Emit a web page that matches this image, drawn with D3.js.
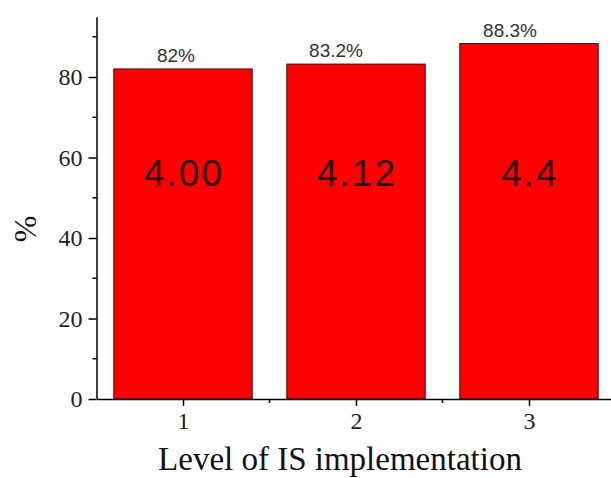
<!DOCTYPE html>
<html><head><meta charset="utf-8">
<script src="https://cdn.jsdelivr.net/npm/d3@7/dist/d3.min.js"></script>
<style>body{margin:0;background:#fff}svg{display:block}</style>
</head><body>
<svg id="c" width="611" height="478"></svg>
<script>
const categories = [1, 2, 3];
const percentValues = [82, 83.2, 88.3];
const percentLabels = ["82%", "83.2%", "88.3%"];
const innerLabels = ["4.00", "4.12", "4.4"];
const yTicks = [0, 20, 40, 60, 80];
const yMinorTicks = [10, 30, 50, 70, 90];
const xMinorTicks = [1.5, 2.5];

const serif = "'Liberation Serif', 'Times New Roman', serif";
const sans = "'Liberation Sans', Arial, sans-serif";

const svg = d3.select("#c");
const x0 = 96.5, yBase = 399;
const x = d3.scaleLinear().domain([0.5, 3.5]).range([x0, x0 + 519]);
const y = d3.scaleLinear().domain([0, 95]).range([yBase, yBase - 95 * 4.025]);
const barW = x(1.4) - x(0.6);

// bars
svg.selectAll("rect.bar").data(categories).join("rect")
  .attr("class", "bar")
  .attr("x", (d) => x(d) - barW / 2)
  .attr("y", (d, i) => y(percentValues[i]))
  .attr("width", barW)
  .attr("height", (d, i) => y(0) - y(percentValues[i]))
  .attr("fill", "#ff0000")
  .attr("stroke", "#3a1010")
  .attr("stroke-width", 1);

// labels above bars
const labelShift = [-7, -20, -19];
svg.selectAll("text.pl").data(categories).join("text")
  .attr("class", "pl")
  .attr("x", (d, i) => x(d) + labelShift[i])
  .attr("y", (d, i) => y(percentValues[i]) - 7)
  .attr("text-anchor", "middle")
  .style("font-family", sans)
  .style("font-size", "19px")
  .attr("fill", "#333")
  .text((d, i) => percentLabels[i]);

// inner labels
svg.selectAll("text.il").data(categories).join("text")
  .attr("class", "il")
  .attr("x", (d) => x(d) + 1)
  .attr("y", 186)
  .attr("text-anchor", "middle")
  .style("font-family", sans)
  .style("font-size", "37px")
  .style("letter-spacing", "2px")
  .attr("fill", "#2a0606")
  .text((d, i) => innerLabels[i]);

// y axis
const yAxis = d3.axisLeft(y).tickValues(yTicks).tickFormat(d3.format("d")).tickSize(8).tickSizeOuter(0).tickPadding(6);
const gy = svg.append("g").attr("transform", `translate(${x0},0)`).call(yAxis);
gy.attr("font-family", null).attr("font-size", null);
gy.selectAll(".tick text").style("font-family", serif).style("font-size", "24px").attr("fill", "#222");
gy.select(".domain").attr("stroke", "#000").attr("stroke-width", 1.5);
gy.selectAll(".tick line").attr("stroke", "#000").attr("stroke-width", 1.5);
gy.selectAll("line.minor").data(yMinorTicks).join("line").attr("class", "minor")
  .attr("x1", 0).attr("x2", -4).attr("y1", (d) => y(d)).attr("y2", (d) => y(d))
  .attr("stroke", "#000").attr("stroke-width", 1.5);

// x axis
const xAxis = d3.axisBottom(x).tickValues(categories).tickFormat(d3.format("d")).tickSize(7).tickSizeOuter(0).tickPadding(6);
const gx = svg.append("g").attr("transform", `translate(0,${yBase})`).call(xAxis);
gx.attr("font-family", null).attr("font-size", null);
gx.selectAll(".tick text").style("font-family", serif).style("font-size", "24px").attr("fill", "#222");
gx.select(".domain").attr("stroke", "#000").attr("stroke-width", 1.5);
gx.selectAll(".tick line").attr("stroke", "#000").attr("stroke-width", 1.5);
gx.selectAll("line.minor").data(xMinorTicks).join("line").attr("class", "minor")
  .attr("y1", 0).attr("y2", 4).attr("x1", (d) => x(d)).attr("x2", (d) => x(d))
  .attr("stroke", "#000").attr("stroke-width", 1.5);

// titles
svg.append("text")
  .attr("x", 340).attr("y", 470)
  .attr("text-anchor", "middle")
  .style("font-family", serif)
  .style("font-size", "33px").attr("fill", "#111")
  .text("Level of IS implementation");
svg.append("text")
  .attr("transform", "translate(36,229) rotate(-90)")
  .attr("text-anchor", "middle")
  .style("font-family", serif)
  .style("font-size", "32px").attr("fill", "#111")
  .text("%");
</script>
</body></html>
